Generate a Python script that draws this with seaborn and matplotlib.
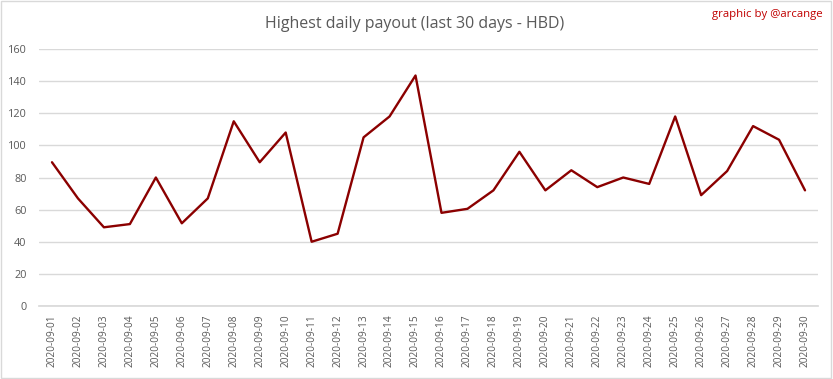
import numpy as np
import pandas as pd
import seaborn as sns
import matplotlib
matplotlib.use("Agg")
from matplotlib import pyplot as plt
from matplotlib.patches import Rectangle

# data
days = ["2020-09-%02d" % d for d in range(1, 31)]
payout = [89.5, 67, 49, 51, 80, 51.5, 67, 115, 89.5, 108,
          40, 45, 105, 118, 143.5, 58, 60.5, 72, 96, 72,
          84.5, 74, 80, 76, 118, 69, 84, 112, 103.5, 72]
y_ticks = [0, 20, 40, 60, 80, 100, 120, 140, 160]

sns.set_theme(style="white")
plt.rcParams['font.family'] = ['Open Sans', 'DejaVu Sans']

df = pd.DataFrame({"day": days, "payout": payout})

fig = plt.figure(figsize=(8.33, 3.79), dpi=100)
ax = fig.add_axes([39 / 833, 73 / 379, 779 / 833, 257 / 379])

sns.lineplot(data=df, x="day", y="payout", ax=ax, color="#8B0000", linewidth=1.7, sort=False)

ax.set_xlim(-0.5, len(days) - 0.5)
ax.set_ylim(0, 160)
ax.set_yticks(y_ticks)
ax.yaxis.grid(True, color="#D9D9D9", linewidth=1)
ax.set_axisbelow(True)
for s in ["top", "right", "left"]:
    ax.spines[s].set_visible(False)
ax.spines["bottom"].set_color("#D9D9D9")
ax.set_xlabel("")
ax.set_ylabel("")
ax.tick_params(axis="x", rotation=90, labelsize=7.3, colors="#595959", length=0, pad=6)
ax.tick_params(axis="y", labelsize=7.8, colors="#595959", length=0, pad=9)

fig.text(0.498, 0.937, "Highest daily payout (last 30 days - HBD)", ha="center", va="center",
         fontsize=11.5, color="#595959")
fig.text(0.987, 0.962, "graphic by @arcange", ha="right", va="center", fontsize=8.2, color="#C00000")

fig.patches.append(Rectangle((0.001, 0.002), 0.997, 0.995, transform=fig.transFigure,
                             fill=False, edgecolor="#D9D9D9", linewidth=1))

fig.savefig("out.png", dpi=100)
